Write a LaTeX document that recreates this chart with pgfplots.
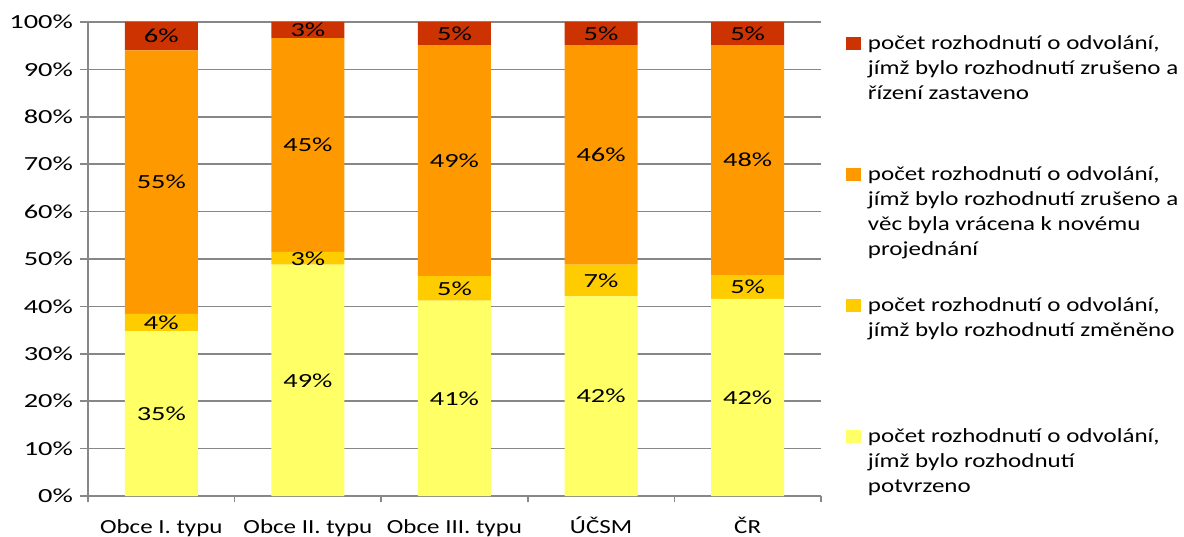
\documentclass[border=0pt]{standalone}
\usepackage{pgfplots}
\pgfplotsset{compat=1.18}
\usepackage{fontspec}
\setmainfont{Carlito}[FakeStretch=1.25]
\newfontfamily\numfont{Carlito}[FakeStretch=1.42]
\definecolor{cPot}{HTML}{FFFF66}
\definecolor{cZmen}{HTML}{FFCC00}
\definecolor{cVrac}{HTML}{FF9900}
\definecolor{cZast}{HTML}{CC3300}
\definecolor{gridgray}{HTML}{878787}
\begin{document}
\begin{tikzpicture}
\begin{axis}[
  at={(0,0)}, anchor=south west,
  scale only axis, width=366.5pt, height=237pt,
  ybar stacked, bar width=36.5pt,
  xmin=-0.5, xmax=4.5, ymin=0, ymax=100,
  xtick={0,1,2,3,4},
  xticklabels={Obce I. typu, Obce II. typu, Obce III. typu, ÚČSM, ČR},
  minor xtick={-0.5,0.5,1.5,2.5,3.5,4.5},
  ytick={0,10,...,100},
  yticklabel={\pgfmathprintnumber{\tick}\%},
  /pgf/number format/assume math mode=true,
  axis lines*=left,
  axis line style={gridgray, line width=0.8pt, -},
  ymajorgrids, grid style={gridgray, line width=0.8pt},
  tick align=outside,
  major tick length=4pt, minor tick length=3pt,
  major x tick style={draw=none},
  minor x tick style={gridgray, line width=0.8pt},
  y tick style={gridgray, line width=0.8pt},
  xticklabel style={font=\fontsize{10}{12}\selectfont, text=black, yshift=-3.5pt, text height=7.5pt, text depth=2pt},
  yticklabel style={font=\numfont\fontsize{10}{12}\selectfont, text=black},
  point meta=explicit symbolic,
  nodes near coords,
  every node near coord/.append style={anchor=center, font=\numfont\fontsize{10}{12}\selectfont, text=black, inner sep=0pt},
  every axis plot/.append style={draw=none, legend image code/.code={\fill[##1] (0pt,0pt) rectangle (7.5pt,6.5pt);}},
  reverse legend,
  legend style={at={(1.0341,0.9789)}, anchor=north west, draw=none, fill=none, inner sep=0pt, outer sep=0pt, row sep=53pt, column sep=1.5pt, cells={anchor=base west, inner sep=0pt, outer sep=0pt}, font=\fontsize{10}{12.5}\selectfont},
]
\addplot[fill=cPot] coordinates {(0,34.8)[35\%] (1,48.8)[49\%] (2,41.2)[41\%] (3,42.1)[42\%] (4,41.6)[42\%]};
\addplot[fill=cZmen] coordinates {(0,3.6)[4\%] (1,2.7)[3\%] (2,5.2)[5\%] (3,6.7)[7\%] (4,5.0)[5\%]};
\addplot[fill=cVrac] coordinates {(0,55.6)[55\%] (1,45.1)[45\%] (2,48.7)[49\%] (3,46.3)[46\%] (4,48.5)[48\%]};
\addplot[fill=cZast] coordinates {(0,6.0)[6\%] (1,3.4)[3\%] (2,4.9)[5\%] (3,4.9)[5\%] (4,4.9)[5\%]};
\legend{
 {\parbox[t]{170pt}{počet rozhodnutí o odvolání,\\jímž bylo rozhodnutí\\potvrzeno}},
 {\parbox[t]{170pt}{počet rozhodnutí o odvolání,\\jímž bylo rozhodnutí změněno}},
 {\parbox[t]{170pt}{počet rozhodnutí o odvolání,\\jímž bylo rozhodnutí zrušeno a\\věc byla vrácena k novému\\projednání}},
 {\parbox[t]{170pt}{počet rozhodnutí o odvolání,\\jímž bylo rozhodnutí zrušeno a\\řízení zastaveno}}
}
\end{axis}
\pgfresetboundingbox
\path[use as bounding box] (-44pt,-20pt) rectangle (548pt,248pt);
\end{tikzpicture}
\end{document}
